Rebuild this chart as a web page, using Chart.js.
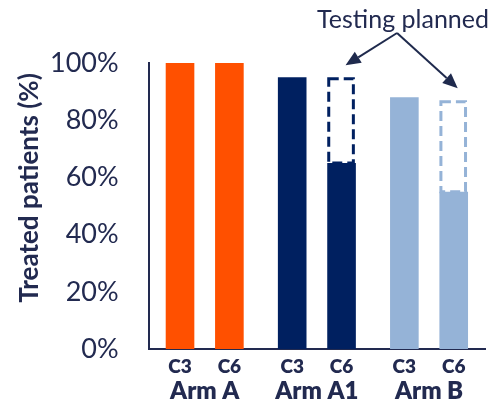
<!DOCTYPE html>
<html>
<head>
<meta charset="utf-8">
<script src="https://cdn.jsdelivr.net/npm/chart.js@4/dist/chart.umd.min.js"></script>
<style>
  html, body { margin: 0; padding: 0; background: #fff; }
  #wrap { width: 494px; height: 403px; }
</style>
</head>
<body>
<div id="wrap"><canvas id="treated"></canvas></div>
<script>
// treated patients per arm, after cycle 3 and cycle 6
const arms = ['Arm A', 'Arm A1', 'Arm B']
const c3Values = [100, 95, 88]
const c6Values = [100, 65, 55]
// expected C6 level once testing is done (dashed outline)
const c6Planned = [null, 95, 87]
const armColors = ['#FF5000', '#002060', '#95B3D7']
const yTicks = [0, 20, 40, 60, 80, 100]
const yTitle = 'Treated patients (%)'

const navy = '#222a50'

// planned part sits on top of the measured C6 value as a floating bar
const plannedRanges = c6Planned.map(function (v, i) {
    return v == null ? null : [c6Values[i], v]
})

// C3 / C6 under each bar, and the y title (sits a bit above the axis middle)
const axisText = {
    id: 'axisText',
    afterDraw(chart) {
        const ctx = chart.ctx
        const area = chart.chartArea
        ctx.save()
        ctx.font = '800 19px Lato'
        ctx.fillStyle = navy
        ctx.textAlign = 'center'
        ctx.textBaseline = 'middle'
        chart.data.datasets.forEach(function (ds, di) {
            if (ds.planned) return
            chart.getDatasetMeta(di).data.forEach(function (bar) {
                ctx.fillText(ds.label, bar.x, area.bottom + 18)
            })
        })
        ctx.font = 'bold 26px Lato'
        ctx.translate(30, (area.top + area.bottom) / 2 - 18)
        ctx.rotate(-Math.PI / 2)
        ctx.fillText(yTitle, 0, 0)
        ctx.restore()
    }
}

// dashed outline for planned values plus arrows from the note
const plannedOutline = {
    id: 'plannedOutline',
    afterDatasetsDraw(chart) {
        const ctx = chart.ctx
        const di = chart.data.datasets.findIndex(d => d.planned)
        const meta = chart.getDatasetMeta(di)
        ctx.save()
        ctx.lineWidth = 3
        ctx.setLineDash([10, 5])
        meta.data.forEach(function (bar, i) {
            if (plannedRanges[i] == null) return
            const w = bar.width
            ctx.strokeStyle = armColors[i]
            ctx.strokeRect(bar.x - w / 2 + 1.5, bar.y + 1.5, w - 4, bar.base - bar.y - 1.5)
        })
        ctx.restore()

        // arrows start below the "Testing planned" note
        const tb = chart.titleBlock
        const titleOpts = chart.options.plugins.title
        ctx.save()
        ctx.font = titleOpts.font.size + 'px Lato'
        const tw = ctx.measureText(titleOpts.text).width
        const sx = tb.right - tw / 2 - 6
        const sy = tb.top + 33
        ctx.strokeStyle = '#1f2a4d'
        ctx.fillStyle = '#1f2a4d'
        ctx.lineWidth = 2
        meta.data.forEach(function (bar, i) {
            if (plannedRanges[i] == null) return
            const tx = bar.x + 4
            const ty = bar.y - 12
            const ang = Math.atan2(ty - sy, tx - sx)
            const hl = 15, hw = 6.5
            const bx = tx - hl * Math.cos(ang), by = ty - hl * Math.sin(ang)
            ctx.beginPath()
            ctx.moveTo(sx, sy)
            ctx.lineTo(bx, by)
            ctx.stroke()
            ctx.beginPath()
            ctx.moveTo(tx, ty)
            ctx.lineTo(bx + hw * Math.sin(ang), by - hw * Math.cos(ang))
            ctx.lineTo(bx - hw * Math.sin(ang), by + hw * Math.cos(ang))
            ctx.closePath()
            ctx.fill()
        })
        ctx.restore()
    }
}

const data = {
    labels: arms,
    datasets: [{
        label: 'C3',
        data: c3Values,
        backgroundColor: armColors,
        stack: 'c3'
    },
    {
        label: 'C6',
        data: c6Values,
        backgroundColor: armColors,
        stack: 'c6'
    },
    {
        label: 'C6 planned',
        planned: true,
        data: plannedRanges,
        backgroundColor: 'rgba(0,0,0,0)',
        borderWidth: 0,
        stack: 'c6'
    }
]}

const options = {
    responsive: true,
    maintainAspectRatio: false,
    animation: false,
    categoryPercentage: 0.88,
    barPercentage: 0.58,
    // tick padding is counted twice by the scales, so pull the edges back in
    layout: { padding: { left: 20, right: 5, top: 0, bottom: -30 } },
    plugins: {
        legend: { display: false },
        tooltip: { enabled: false },
        title: {
            display: true,
            text: 'Testing planned',
            align: 'end',
            color: navy,
            font: { family: 'Lato', size: 25, weight: 'normal', lineHeight: 1.2 },
            padding: { top: 5, bottom: 28 }
        }
    },
    scales: {
        x: {
            grid: { display: false, drawTicks: false },
            border: { display: true, color: navy, width: 2 },
            ticks: {
                color: navy,
                padding: 30,
                font: { family: 'Lato', size: 24, weight: 800, lineHeight: 1 }
            }
        },
        y: {
            stacked: false,
            min: 0,
            max: 100,
            grid: { display: false, drawTicks: false },
            border: { display: true, color: navy, width: 2 },
            afterBuildTicks(axis) {
                axis.ticks = yTicks.map(v => ({ value: v }))
            },
            ticks: {
                color: navy,
                padding: 30,
                font: { family: 'Lato', size: 27, weight: 'normal' },
                callback: v => v + '%'
            }
        }
    }
}

new Chart(document.getElementById('treated'), {
    type: 'bar',
    data: data,
    options: options,
    plugins: [plannedOutline, axisText]
})
</script>
</body>
</html>
